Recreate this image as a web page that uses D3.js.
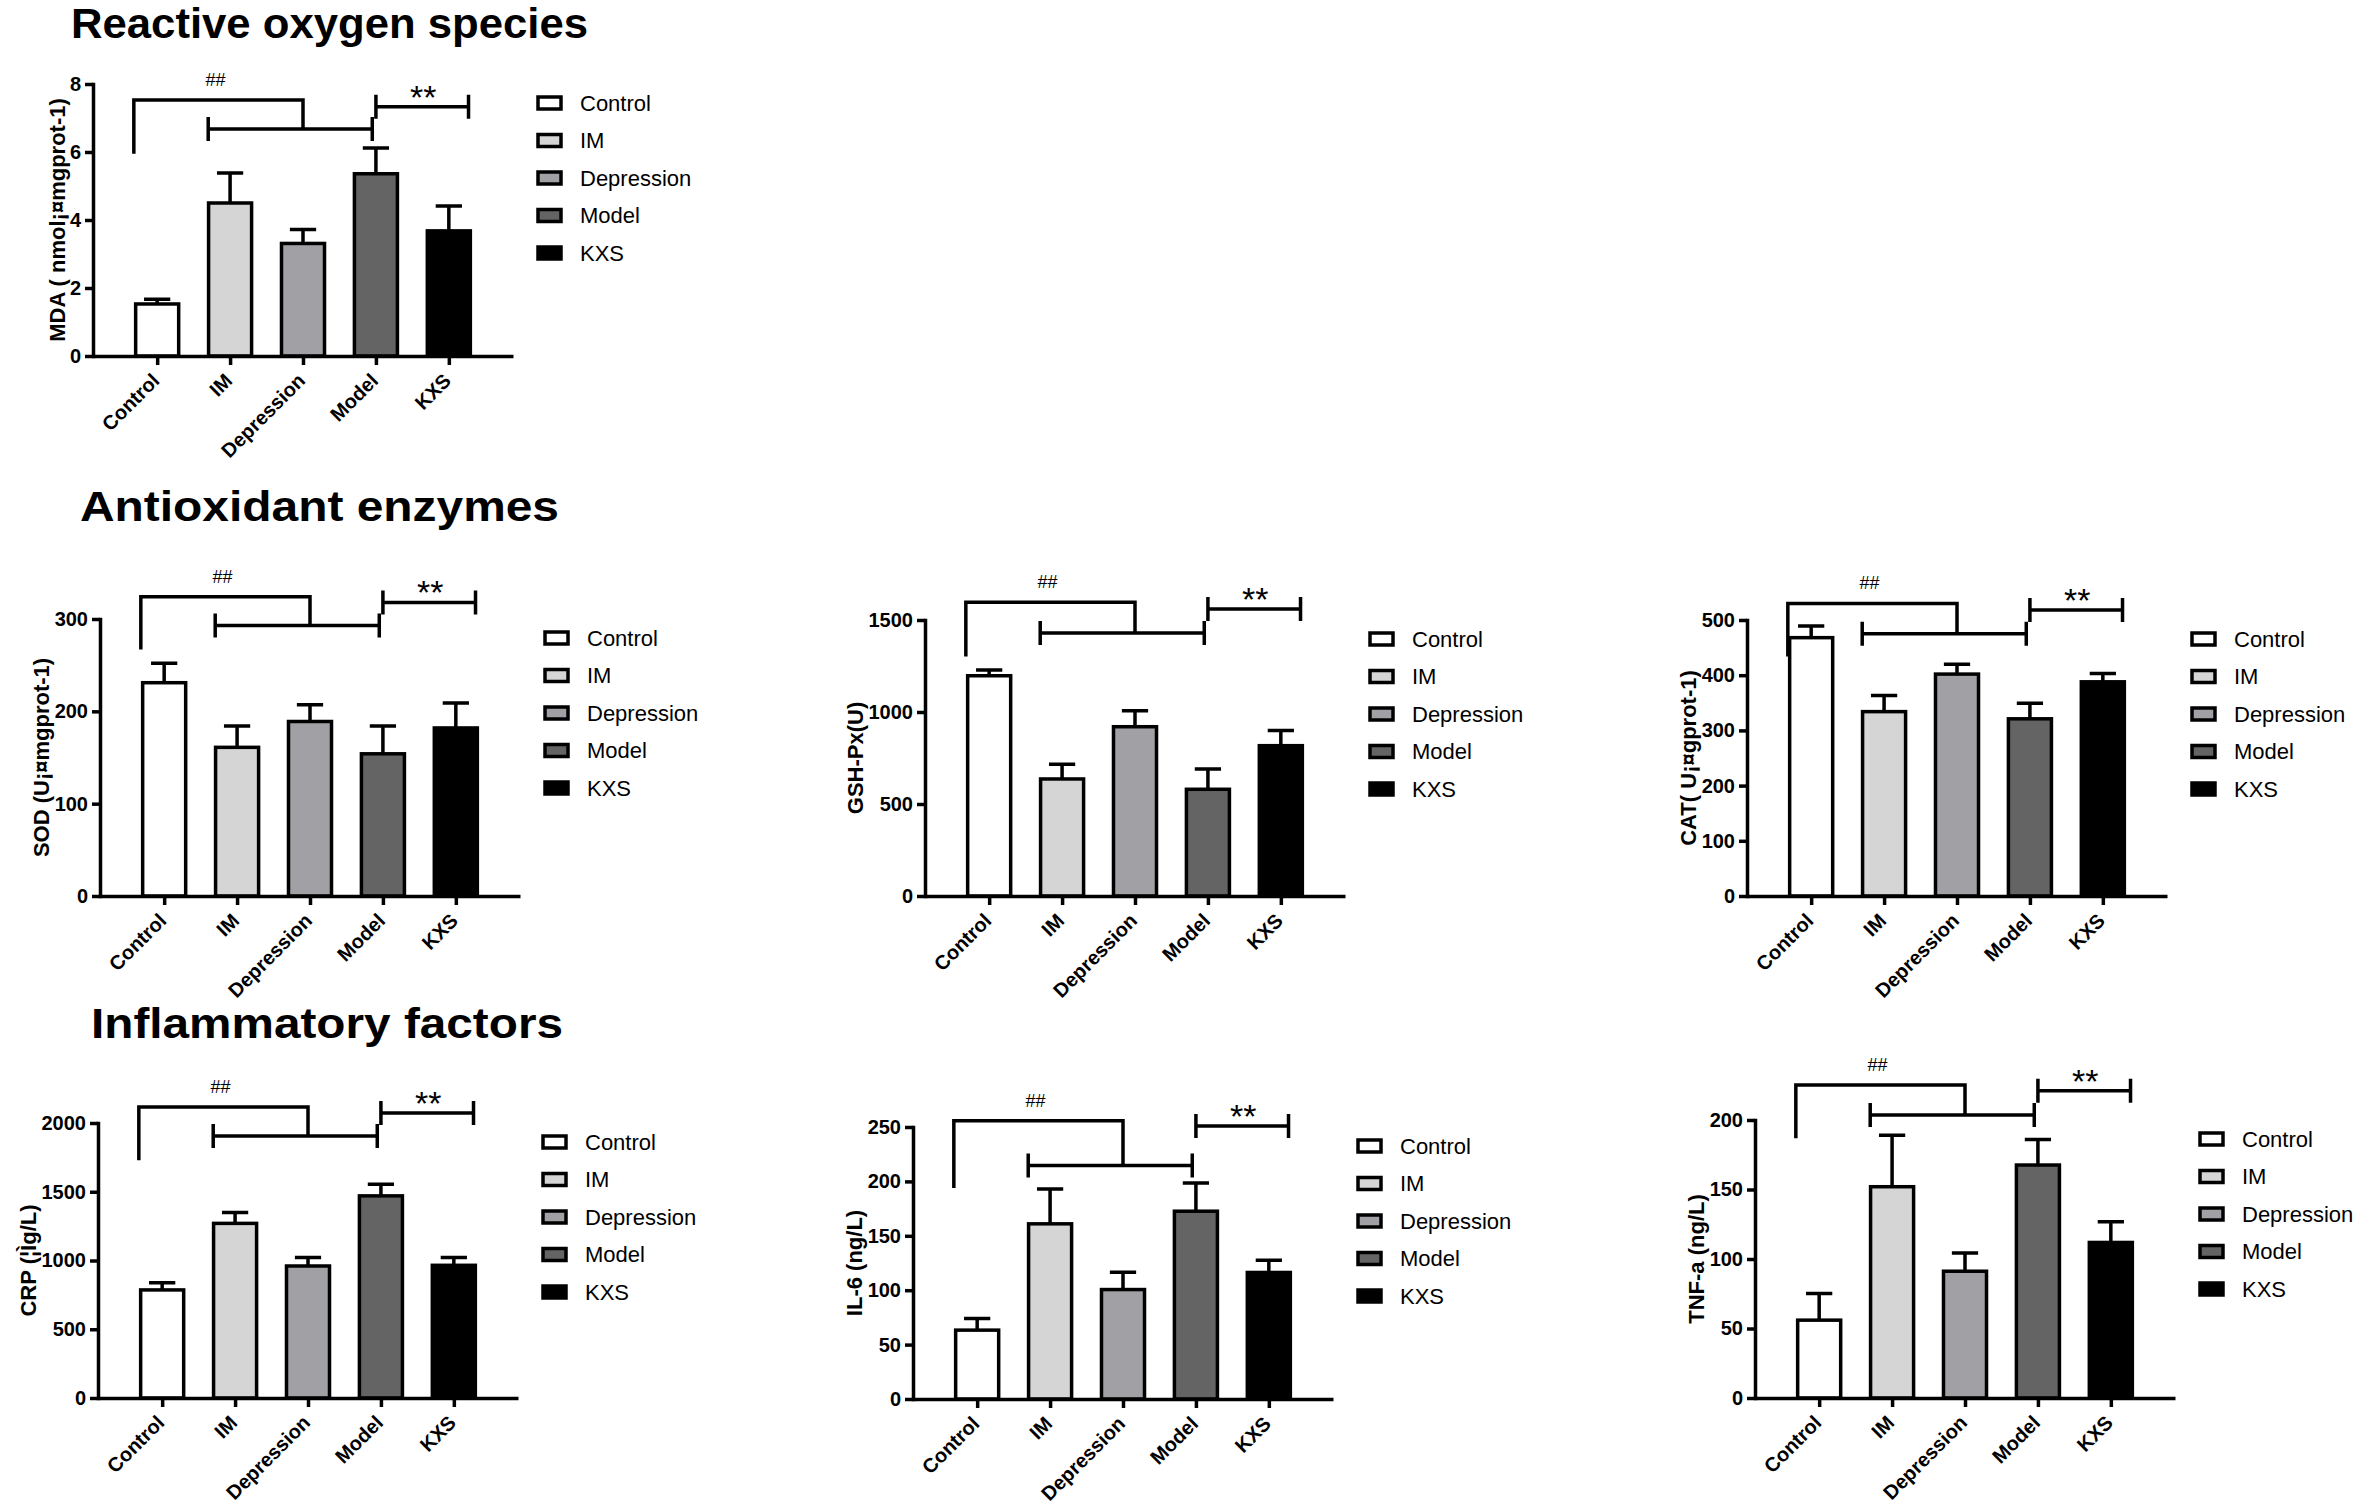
<!DOCTYPE html>
<html lang="en">
<head>
<meta charset="UTF-8">
<title>MDA, antioxidant enzymes and inflammatory factors</title>
<script src="https://d3js.org/d3.v7.min.js"></script>
<style>
  body { margin: 0; background: #fff; }
  svg text { font-family: "Liberation Sans", Arial, Helvetica, sans-serif; fill: #000; }
  .axis path, .axis line { stroke: #000; stroke-width: 3.5px; }
  .axis text { font-size: 20px; font-weight: bold; }
  .bar { stroke: #000; stroke-width: 3.5px; }
  .err, .sig { stroke: #000; stroke-width: 3.5px; fill: none; }
  .ylab { font-size: 22px; font-weight: bold; }
  .title { font-size: 42px; font-weight: bold; }
  .legend text { font-size: 22px; }
</style>
</head>
<body>
<svg id="fig" width="2363" height="1507"></svg>
<script>
// groups and colours shared by every panel
const groups = ["Control", "IM", "Depression", "Model", "KXS"];
const fills = ["#ffffff", "#d5d5d5", "#a1a1a5", "#646464", "#000000"];

// means and error (upper SD)
const mdaMean = [1.53, 4.50, 3.31, 5.36, 3.68];
const mdaErr  = [0.14, 0.88, 0.41, 0.76, 0.73];
const sodMean = [231, 161, 189, 154, 182];
const sodErr  = [21, 23, 18, 30, 27];
const gshMean = [1197, 636, 920, 580, 817];
const gshErr  = [31, 80, 87, 110, 82];
const catMean = [468, 334, 402, 321, 388];
const catErr  = [21, 29, 18, 28, 15];
const crpMean = [786, 1270, 960, 1470, 965];
const crpErr  = [53, 80, 61, 85, 56];
const il6Mean = [63.3, 161, 100.6, 172.6, 116.3];
const il6Err  = [10.7, 32, 15.9, 25.9, 11.3];
const tnfMean = [56, 152, 91.2, 167.6, 111.9];
const tnfErr  = [19.2, 37, 13.2, 18.4, 14.9];

// axis labels, y maxima and tick steps (same panel order)
const yLabels = ["MDA ( nmol¡¤mgprot-1)", "SOD (U¡¤mgprot-1)", "GSH-Px(U)",
                 "CAT( U¡¤gprot-1)", "CRP (¦Ìg/L)", "IL-6 (ng/L)", "TNF-a (ng/L)"];
const yMax  = [8, 300, 1500, 500, 2000, 250, 200];
const yStep = [2, 100, 500, 100, 500, 50, 50];

// significance brackets, in data units of each panel
const sigTop    = [7.53, 324, 1596, 530, 2116, 255.8, 225.2];
const sigTopLeg = [5.95, 267, 1301, 434, 1729, 194, 186.8];
const sigLow    = [6.68, 293, 1430, 475, 1906, 214.5, 203.6];
const sigStar   = [7.33, 318, 1560, 518, 2073, 251, 221];

const titles = ["Reactive oxygen species", "Antioxidant enzymes", "Inflammatory factors"];

const means = [mdaMean, sodMean, gshMean, catMean, crpMean, il6Mean, tnfMean];
const errs  = [mdaErr, sodErr, gshErr, catErr, crpErr, il6Err, tnfErr];

// where each panel sits on the page (y axis x, top tick y, baseline y)
const layout = [
  {x: 93,   top: 84,   base: 356},
  {x: 100,  top: 619,  base: 896},
  {x: 925,  top: 620,  base: 896},
  {x: 1747, top: 620,  base: 896},
  {x: 98,   top: 1123, base: 1398},
  {x: 913,  top: 1127, base: 1399},
  {x: 1755, top: 1120, base: 1398}
];
const titlePos = [
  {x: 71, y: 38, w: 517},
  {x: 80, y: 521, w: 479},
  {x: 91, y: 1038, w: 472}
];

const svg = d3.select("#fig");
const plotW = 420;

svg.selectAll("text.title").data(titles)
  .join("text")
  .attr("class", "title")
  .attr("x", (d, i) => titlePos[i].x)
  .attr("y", (d, i) => titlePos[i].y)
  .attr("textLength", (d, i) => titlePos[i].w)
  .attr("lengthAdjust", "spacingAndGlyphs")
  .text(d => d);

layout.forEach((p, k) => {
  const g = svg.append("g");

  const x = d3.scalePoint().domain(groups).range([p.x, p.x + plotW]).padding(0.88);
  const y = d3.scaleLinear().domain([0, yMax[k]]).range([p.base, p.top]);
  const step = x.step();
  const bw = step * 0.59;
  const capW = step * 0.36;

  const rows = groups.map((name, i) => ({name, mean: means[k][i], err: errs[k][i], fill: fills[i]}));

  // bars
  g.selectAll("rect.bar").data(rows)
    .join("rect")
    .attr("class", "bar")
    .attr("x", d => x(d.name) - bw / 2)
    .attr("y", d => y(d.mean))
    .attr("width", bw)
    .attr("height", d => y(0) - y(d.mean))
    .attr("fill", d => d.fill);

  // upper error bars
  g.selectAll("path.err").data(rows)
    .join("path")
    .attr("class", "err")
    .attr("d", d => {
      const cx = x(d.name), yt = y(d.mean + d.err);
      return `M${cx},${y(d.mean)}V${yt}M${cx - capW / 2},${yt}H${cx + capW / 2}`;
    });

  // axes
  const yAxis = g.append("g").attr("class", "axis")
    .attr("transform", `translate(${p.x},0)`)
    .call(d3.axisLeft(y).tickValues(d3.range(0, yMax[k] + 1e-9, yStep[k]))
      .tickFormat(d3.format("d"))
      .tickSize(8).tickSizeOuter(0).tickPadding(4));
  yAxis.select(".domain").attr("stroke-linecap", "square");

  const xAxis = g.append("g").attr("class", "axis")
    .attr("transform", `translate(0,${p.base})`)
    .call(d3.axisBottom(x).tickSize(9).tickSizeOuter(0));
  xAxis.selectAll("text")
    .attr("x", 0).attr("y", 0).attr("dy", "0.35em")
    .attr("text-anchor", "end")
    .attr("font-size", 22)
    .attr("transform", "translate(-2,21) rotate(-45)");

  // y label left of the tick labels
  const bb = yAxis.node().getBBox();
  g.append("text").attr("class", "ylab")
    .attr("transform", `translate(${p.x + bb.x - 13},${(p.top + p.base) / 2}) rotate(-90)`)
    .attr("text-anchor", "middle")
    .attr("dy", "0.35em")
    .text(yLabels[k]);

  // significance brackets
  const fx = f => x(groups[0]) + f * step;
  const leg = 12;
  const yT = y(sigTop[k]), yL = y(sigLow[k]), yS = y(sigStar[k]);
  g.append("path").attr("class", "sig")
    .attr("d", `M${fx(-0.32)},${y(sigTopLeg[k])}V${yT}H${fx(2.0)}V${yL}`);
  g.append("path").attr("class", "sig")
    .attr("d", `M${fx(0.7)},${yL - leg}V${yL + leg}M${fx(0.7)},${yL}H${fx(2.95)}M${fx(2.95)},${yL - leg}V${yL + leg}`);
  g.append("path").attr("class", "sig")
    .attr("d", `M${fx(3.0)},${yS - leg}V${yS + leg}M${fx(3.0)},${yS}H${fx(4.27)}M${fx(4.27)},${yS - leg}V${yS + leg}`);
  g.append("text").attr("x", fx(0.8)).attr("y", yT - 14)
    .attr("text-anchor", "middle").attr("font-size", 18).text("##");
  g.append("text").attr("x", fx(3.65)).attr("y", yS + 2)
    .attr("text-anchor", "middle").attr("font-size", 34).text("**");

  // legend
  const lg = g.append("g").attr("class", "legend")
    .attr("transform", `translate(${p.x + 443},${p.top + 19})`);
  const item = lg.selectAll("g").data(rows).join("g")
    .attr("transform", (d, i) => `translate(0,${i * 37.5})`);
  item.append("rect")
    .attr("x", 2).attr("y", -6).attr("width", 23).attr("height", 12)
    .attr("fill", d => d.fill).attr("stroke", "#000").attr("stroke-width", 3.5);
  item.append("text")
    .attr("x", 44).attr("dy", "0.36em")
    .text(d => d.name);
});
</script>
</body>
</html>
